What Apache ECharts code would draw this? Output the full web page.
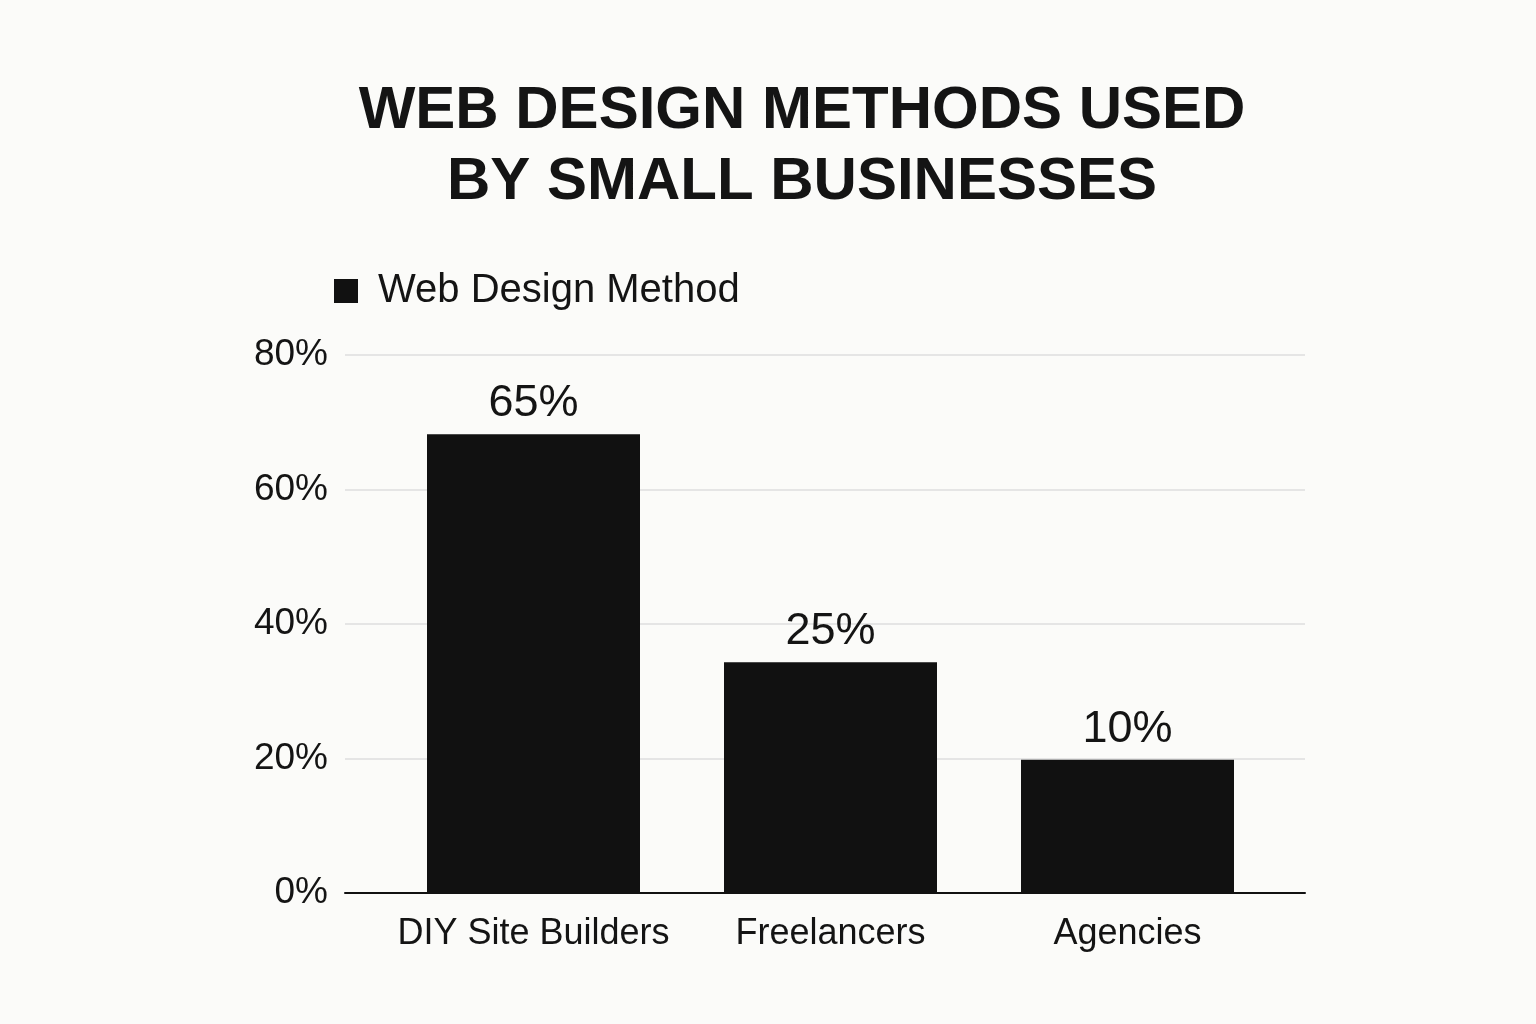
<!DOCTYPE html>
<html>
<head>
<meta charset="utf-8">
<script src="https://cdn.jsdelivr.net/npm/echarts@6/dist/echarts.min.js"></script>
<style>
html,body{margin:0;padding:0;background:#fbfbf9;}
#chart{width:1536px;height:1024px;}
</style>
</head>
<body>
<div id="chart"></div>
<script>
var titleLines = ['WEB DESIGN METHODS USED', 'BY SMALL BUSINESSES'];
var seriesName = 'Web Design Method';
var categories = ['DIY Site Builders', 'Freelancers', 'Agencies'];
// bar heights as drawn in the picture (% of axis)
var barValues = [68.2, 34.3, 19.8];
// value labels as printed above the bars
var barLabels = ['65%', '25%', '10%'];
var yTicks = { min: 0, max: 80, interval: 20 };

var font = 'Liberation Sans, Arial, sans-serif';
var chart = echarts.init(document.getElementById('chart'));
chart.setOption({
  backgroundColor: '#fbfbf9',
  title: {
    text: titleLines.join('\n'),
    left: 797,
    top: 71,
    textAlign: 'center',
    textStyle: { fontFamily: font, fontWeight: 'bold', fontSize: 60, lineHeight: 71, color: '#141414', align: 'center' }
  },
  legend: {
    left: 334, top: 271, padding: 0,
    icon: 'rect', itemWidth: 24, itemHeight: 24, itemGap: 20,
    textStyle: { fontFamily: font, fontSize: 40, color: '#141414', padding: [0, 0, 0, 15] },
    data: [seriesName]
  },
  grid: [
    { left: 345, right: 231, top: 355, bottom: 131 },
    { left: 385, right: 260, top: 355, bottom: 131 }
  ],
  xAxis: [
    { type: 'category', gridIndex: 0, data: [''], axisLine: { show: true, lineStyle: { color: '#111', width: 2 } },
      axisTick: { show: false }, axisLabel: { show: false }, z: 10 },
    { type: 'category', gridIndex: 1, data: categories, axisLine: { show: false }, axisTick: { show: false },
      axisLabel: { interval: 0, fontFamily: font, fontSize: 36, color: '#141414', margin: 23 } }
  ],
  yAxis: [
    { type: 'value', gridIndex: 0, min: yTicks.min, max: yTicks.max, interval: yTicks.interval,
      axisLabel: { formatter: '{value}%', fontFamily: font, fontSize: 37, color: '#141414', margin: 17, padding: [5, 0, 0, 0] },
      axisLine: { show: false }, axisTick: { show: false },
      splitLine: { lineStyle: { color: '#dedede', width: 1.5 } } },
    { type: 'value', gridIndex: 1, min: yTicks.min, max: yTicks.max, interval: yTicks.interval, show: false,
      splitLine: { show: false } }
  ],
  series: [{
    name: seriesName,
    type: 'bar',
    xAxisIndex: 1, yAxisIndex: 1,
    data: barValues,
    barWidth: 213,
    itemStyle: { color: '#111111' },
    label: {
      show: true, position: 'top', distance: 8,
      fontFamily: font, fontSize: 45, color: '#141414',
      formatter: function (p) { return barLabels[p.dataIndex]; }
    }
  }]
});
</script>
</body>
</html>
